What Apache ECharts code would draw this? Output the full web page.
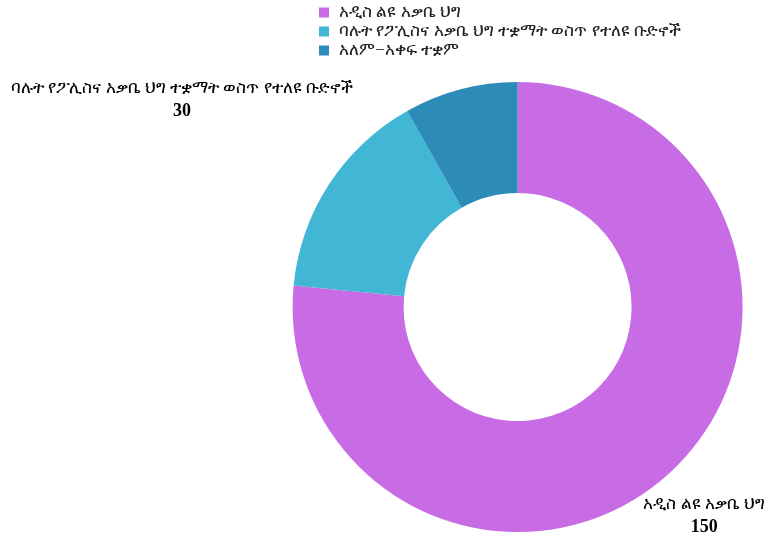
<!DOCTYPE html>
<html>
<head>
<meta charset="utf-8">
<script src="https://cdn.jsdelivr.net/npm/echarts@6/dist/echarts.min.js"></script>
<style>html,body{margin:0;padding:0;background:#fff}#c{width:776px;height:535px}</style>
</head>
<body>
<div id="c"></div>
<script>
const categories = ['አዲስ ልዩ አቃቤ ህግ', 'ባሉት የፖሊስና አቃቤ ህግ ተቋማት ወስጥ የተለዩ ቡድኖች', 'አለም−አቀፍ ተቋም'];
const values = [150, 30, 16];
const colors = ['#c86ce6', '#42b6d5', '#2d8bb8'];
const showLabel = [true, true, false];
const lineLen = [57, 154, 30];

const chart = echarts.init(document.getElementById('c'));
chart.setOption({
  animation: false,
  color: colors,
  legend: {
    orient: 'vertical',
    left: 315,
    top: 0,
    padding: 4,
    itemWidth: 10,
    itemHeight: 10,
    itemGap: 2,
    icon: 'rect',
    textStyle: { fontSize: 17, lineHeight: 17, color: '#222', fontFamily: 'serif', padding: [0, 0, 0, 5] },
    data: categories
  },
  series: [{
    type: 'pie',
    center: ['66.7%', '57.4%'],
    radius: [114, 225],
    startAngle: 90,
    clockwise: true,
    avoidLabelOverlap: false,
    label: {
      position: 'outside',
      alignTo: 'edge',
      edgeDistance: 11,
      formatter: '{n|{b}}\n{v|{c}}',
      rich: {
        n: { fontSize: 17, color: '#000', fontFamily: 'serif', lineHeight: 23, align: 'center' },
        v: { fontSize: 18, color: '#000', fontFamily: 'serif', fontWeight: 'bold', lineHeight: 23, align: 'center' }
      }
    },
    labelLine: { show: false },
    data: categories.map((name, i) => ({
      name: name,
      value: values[i],
      label: { show: showLabel[i] },
      labelLine: { show: false, length: lineLen[i], length2: 10 }
    }))
  }]
});
</script>
</body>
</html>
